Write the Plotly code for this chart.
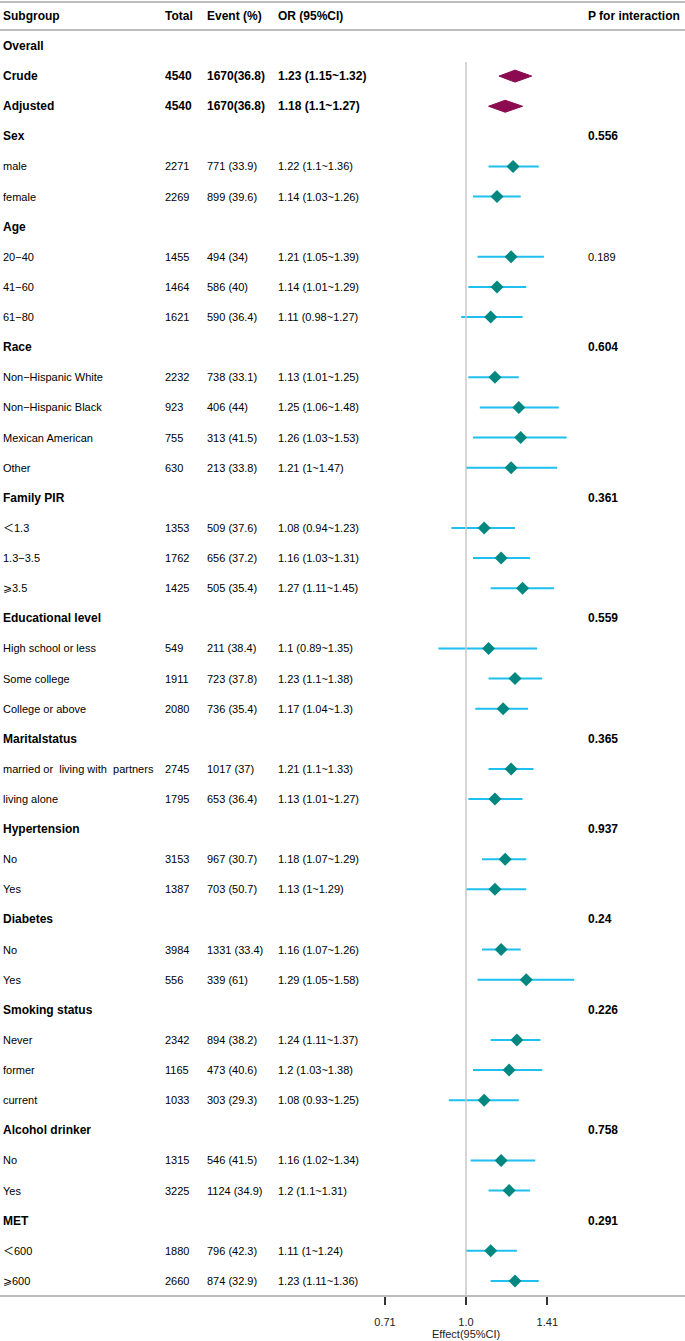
import plotly.graph_objects as go

# ---------------- data ----------------
subgroups = ["Overall", "Crude", "Adjusted",
             "Sex", "male", "female",
             "Age", "20−40", "41−60", "61−80",
             "Race", "Non−Hispanic White", "Non−Hispanic Black", "Mexican American", "Other",
             "Family PIR", "＜1.3", "1.3−3.5", "⩾3.5",
             "Educational level", "High school or less", "Some college", "College or above",
             "Maritalstatus", "married or  living with  partners", "living alone",
             "Hypertension", "No", "Yes",
             "Diabetes", "No", "Yes",
             "Smoking status", "Never", "former", "current",
             "Alcohol drinker", "No", "Yes",
             "MET", "＜600", "⩾600"]

is_bold = [True, True, True,
           True, False, False,
           True, False, False, False,
           True, False, False, False, False,
           True, False, False, False,
           True, False, False, False,
           True, False, False,
           True, False, False,
           True, False, False,
           True, False, False, False,
           True, False, False,
           True, False, False]

totals = ["", "4540", "4540",
          "", "2271", "2269",
          "", "1455", "1464", "1621",
          "", "2232", "923", "755", "630",
          "", "1353", "1762", "1425",
          "", "549", "1911", "2080",
          "", "2745", "1795",
          "", "3153", "1387",
          "", "3984", "556",
          "", "2342", "1165", "1033",
          "", "1315", "3225",
          "", "1880", "2660"]

events = ["", "1670(36.8)", "1670(36.8)",
          "", "771 (33.9)", "899 (39.6)",
          "", "494 (34)", "586 (40)", "590 (36.4)",
          "", "738 (33.1)", "406 (44)", "313 (41.5)", "213 (33.8)",
          "", "509 (37.6)", "656 (37.2)", "505 (35.4)",
          "", "211 (38.4)", "723 (37.8)", "736 (35.4)",
          "", "1017 (37)", "653 (36.4)",
          "", "967 (30.7)", "703 (50.7)",
          "", "1331 (33.4)", "339 (61)",
          "", "894 (38.2)", "473 (40.6)", "303 (29.3)",
          "", "546 (41.5)", "1124 (34.9)",
          "", "796 (42.3)", "874 (32.9)"]

N = None
or_est = [N, 1.23, 1.18,
          N, 1.22, 1.14,
          N, 1.21, 1.14, 1.11,
          N, 1.13, 1.25, 1.26, 1.21,
          N, 1.08, 1.16, 1.27,
          N, 1.10, 1.23, 1.17,
          N, 1.21, 1.13,
          N, 1.18, 1.13,
          N, 1.16, 1.29,
          N, 1.24, 1.20, 1.08,
          N, 1.16, 1.20,
          N, 1.11, 1.23]
or_lo = [N, 1.15, 1.10,
         N, 1.10, 1.03,
         N, 1.05, 1.01, 0.98,
         N, 1.01, 1.06, 1.03, 1.00,
         N, 0.94, 1.03, 1.11,
         N, 0.89, 1.10, 1.04,
         N, 1.10, 1.01,
         N, 1.07, 1.00,
         N, 1.07, 1.05,
         N, 1.11, 1.03, 0.93,
         N, 1.02, 1.10,
         N, 1.00, 1.11]
or_hi = [N, 1.32, 1.27,
         N, 1.36, 1.26,
         N, 1.39, 1.29, 1.27,
         N, 1.25, 1.48, 1.53, 1.47,
         N, 1.23, 1.31, 1.45,
         N, 1.35, 1.38, 1.30,
         N, 1.33, 1.27,
         N, 1.29, 1.29,
         N, 1.26, 1.58,
         N, 1.37, 1.38, 1.25,
         N, 1.34, 1.31,
         N, 1.24, 1.36]

p_interaction = ["", "", "",
                 "0.556", "", "",
                 "", "0.189", "", "",
                 "0.604", "", "", "", "",
                 "0.361", "", "", "",
                 "0.559", "", "", "",
                 "0.365", "", "",
                 "0.937", "", "",
                 "0.24", "", "",
                 "0.226", "", "", "",
                 "0.758", "", "",
                 "0.291", "", ""]
p_bold = [False] * 3 + [True] + [False] * 3 + [False] + [False] * 2 + \
         [True] + [False] * 4 + [True] + [False] * 3 + [True] + [False] * 3 + \
         [True] + [False] * 2 + [True] + [False] * 2 + [True] + [False] * 2 + \
         [True] + [False] * 3 + [True] + [False] * 2 + [True] + [False] * 2

summary_rows = [1, 2]
headers = ["Subgroup", "Total", "Event (%)", "OR (95%CI)", "P for interaction"]
tick_vals = [0.71, 1.0, 1.41]
tick_text = ["0.71", "1.0", "1.41"]
axis_title = "Effect(95%CI)"

# ---------------- layout constants ----------------
W, H = 685, 1341
FONT = "Liberation Sans, Arial, Noto Sans CJK SC, sans-serif"
col_px = [2, 164, 206, 277, 587]
ROW0_PX, ROW_H = 46, 30.12
AXIS_PX = 1296
REF_X_PX, PX_PER_LOG10 = 466, 544.8

def px_to_row(p):
    return (p - ROW0_PX) / ROW_H

y_top = px_to_row(0)
y_bot = px_to_row(AXIS_PX)
x_range = [(0 - REF_X_PX) / PX_PER_LOG10, (W - REF_X_PX) / PX_PER_LOG10]

def fmt(v):
    return f"{v:g}"

fig = go.Figure()

# CI lines for subgroup rows
ci_x, ci_y, pt_x, pt_y = [], [], [], []
for i, est in enumerate(or_est):
    if est is None or i in summary_rows:
        continue
    ci_x += [or_lo[i], or_hi[i], None]
    ci_y += [i, i, None]
    pt_x.append(est)
    pt_y.append(i)

fig.add_trace(go.Scatter(x=ci_x, y=ci_y, mode="lines",
                         line=dict(color="#1DC0EE", width=2),
                         hoverinfo="skip", showlegend=False))
fig.add_trace(go.Scatter(x=pt_x, y=pt_y, mode="markers",
                         marker=dict(symbol="diamond", size=10, color="#00877F",
                                     line=dict(width=0)),
                         showlegend=False))

# summary diamonds
dh = 6 / ROW_H
for i in summary_rows:
    fig.add_trace(go.Scatter(
        x=[or_lo[i], or_est[i], or_hi[i], or_est[i], or_lo[i]],
        y=[i, i - dh, i, i + dh, i],
        mode="lines", fill="toself", fillcolor="#8B0A50",
        line=dict(color="#8B0A50", width=1), showlegend=False, hoverinfo="skip"))

# reference line at 1
fig.add_shape(type="line", xref="x", yref="y", x0=1, x1=1,
              y0=px_to_row(62), y1=y_bot, line=dict(color="#C8C8C8", width=1.5))

# horizontal rules
for p in [2, 30]:
    fig.add_shape(type="line", xref="paper", yref="y", x0=0, x1=1,
                  y0=px_to_row(p), y1=px_to_row(p), line=dict(color="#BDBDBD", width=2))
fig.add_shape(type="line", xref="paper", yref="paper", x0=0, x1=1,
              y0=0, y1=0, line=dict(color="#BDBDBD", width=2))

annots = []
def add_text(xp, row, text, bold=False, size=11):
    annots.append(dict(x=xp / W, y=row, xref="paper", yref="y", text=text,
                       showarrow=False, xanchor="left", yanchor="middle", borderpad=0,
                       font=dict(family=FONT, size=size, color="#000000",
                                 weight="bold" if bold else "normal")))

# header
for xp, h in zip(col_px, headers):
    add_text(xp, -1, h, bold=True, size=12)

for i, s in enumerate(subgroups):
    b = is_bold[i]
    add_text(col_px[0], i, s, bold=b, size=12 if b else 11)
    if totals[i]:
        add_text(col_px[1], i, totals[i], bold=b, size=12 if b else 11)
    if events[i]:
        add_text(col_px[2], i, events[i], bold=b, size=12 if b else 11)
    if or_est[i] is not None:
        txt = f"{fmt(or_est[i])} ({fmt(or_lo[i])}~{fmt(or_hi[i])})"
        add_text(col_px[3], i, txt, bold=b, size=12 if b else 11)
    if p_interaction[i]:
        add_text(col_px[4], i, p_interaction[i], bold=p_bold[i], size=12 if p_bold[i] else 11)

# x-axis title, centred under the reference value
annots.append(dict(x=0, y=(AXIS_PX - 1334) / AXIS_PX, xref="x", yref="paper",
                   text=axis_title, showarrow=False, xanchor="center", yanchor="middle",
                   borderpad=0, font=dict(family=FONT, size=11, color="#222222")))

fig.update_layout(
    width=W, height=H,
    margin=dict(l=0, r=0, t=0, b=H - AXIS_PX),
    paper_bgcolor="white", plot_bgcolor="white",
    annotations=annots,
    font=dict(family=FONT, size=11, color="#222222"),
    xaxis=dict(type="log", range=x_range, showgrid=False, zeroline=False,
               showline=False, tickvals=tick_vals, ticktext=tick_text,
               ticks="outside", ticklen=8, tickwidth=1.5, tickcolor="#333333",
               ticklabelstandoff=8,
               tickfont=dict(family=FONT, size=11, color="#222222"),
               automargin=False, fixedrange=True),
    yaxis=dict(range=[y_bot, y_top], showgrid=False, zeroline=False, showline=False,
               showticklabels=False, ticks="", fixedrange=True),
    showlegend=False,
)

fig.write_html("out.html", config={"displayModeBar": False},
               post_script="document.body.style.margin='0';")
